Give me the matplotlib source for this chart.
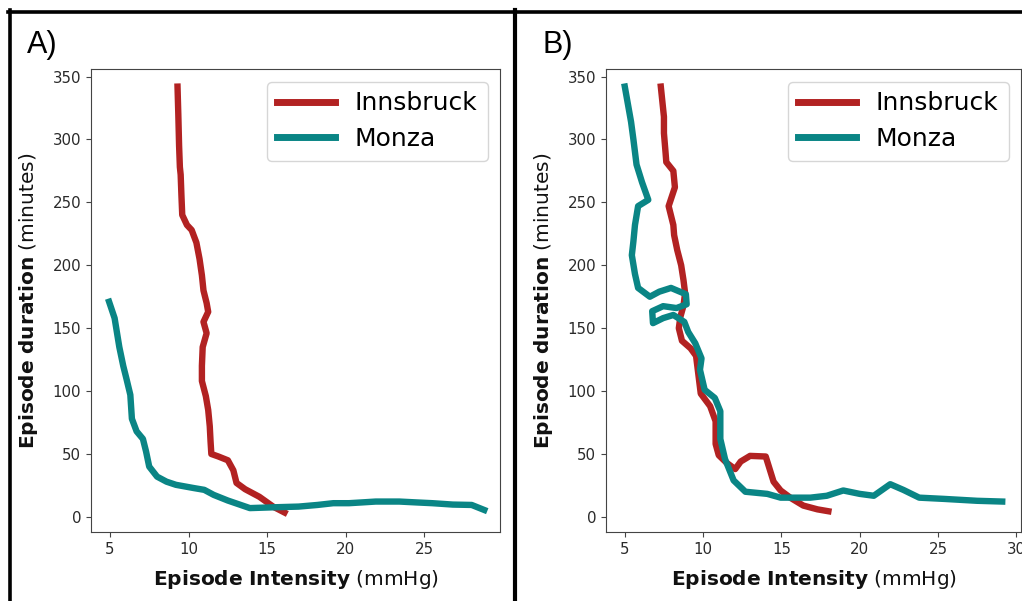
import matplotlib
matplotlib.use("Agg")
import matplotlib.pyplot as plt
from matplotlib.lines import Line2D

# ---------------- data ----------------
a_inn_x = [9.3, 9.35, 9.4, 9.45, 9.5, 9.55, 9.6, 9.9, 10.2, 10.5, 10.7, 10.85, 10.95, 11.15, 11.25,
           10.95, 11.15, 10.9, 10.85, 10.85, 11.1, 11.25, 11.35, 11.4, 11.45, 11.9, 12.5, 12.85,
           13.05, 13.6, 14.5, 15.4, 16.1]
a_inn_y = [342, 320, 295, 278, 272, 255, 240, 232, 228, 218, 205, 192, 180, 170, 163,
           155, 146, 135, 120, 108, 96, 85, 72, 60, 50, 48, 45, 37,
           27, 22, 16, 8, 3.5]

a_mon_x = [4.95, 5.3, 5.6, 5.85, 6.05, 6.3, 6.4, 6.7, 7.1, 7.3, 7.5, 8.0, 8.6, 9.2, 10.3, 11.0,
           11.6, 12.5, 13.2, 13.9, 15.6, 17.0, 18.2, 19.2, 20.2, 21.0, 21.9, 23.4, 24.5, 25.5,
           26.8, 28.0, 28.8]
a_mon_y = [171, 158, 135, 120, 110, 97, 78, 68, 62, 52, 40, 32, 28, 25.5, 23, 21.5,
           17.5, 13, 10, 7, 7.7, 8.2, 9.5, 10.9, 10.9, 11.5, 12.2, 12.2, 11.5, 10.9,
           9.8, 9.5, 5.5]

b_inn_x = [7.3, 7.4, 7.5, 7.5, 7.6, 7.65, 8.1, 8.2, 7.8, 8.1, 8.15, 8.35, 8.6, 8.75, 8.85, 8.75,
           8.55, 8.45, 8.65, 9.2, 9.55, 9.7, 9.85, 10.45, 10.8, 10.8, 11.0, 11.5, 12.05, 12.4,
           13.0, 14.0, 14.5, 14.95, 15.6, 16.4, 17.3, 18.0]
b_inn_y = [342, 330, 318, 305, 290, 282, 275, 262, 247, 232, 224, 212, 200, 188, 178, 168,
           159, 150, 140, 134, 128, 113, 98, 88, 76, 58, 49, 43, 38, 44,
           48.5, 48, 28, 21, 15, 9, 6, 4.5]

b_mon_x = [5.0, 5.2, 5.4, 5.55, 5.65, 5.75, 5.9, 6.1, 6.3, 6.5, 5.85, 5.65, 5.55, 5.45, 5.65,
           5.85, 6.6, 7.2, 7.95, 8.9, 8.95, 8.3, 7.45, 6.75, 6.8, 7.45, 8.1, 8.8, 9.05, 9.5,
           9.9, 9.8, 10.1, 10.75, 11.1, 11.1, 11.4, 11.95, 12.7, 14.1, 14.95, 16.85, 17.9,
           18.95, 20.0, 20.9, 21.95, 22.8, 23.8, 25.4, 27.5, 29.1]
b_mon_y = [342, 328, 314, 300, 290, 280, 274, 266, 259, 252, 247, 232, 219, 208, 193,
           182, 175, 179, 182, 177, 169, 166, 167.5, 163.5, 154, 158, 160.5, 155, 147, 138,
           126, 117, 101, 94.5, 84, 62, 46, 29, 20, 18.3, 15.3, 15.3, 16.8,
           21, 18.3, 16.8, 26, 21.4, 15.3, 14.3, 12.8, 12.2]

series_names = ["Innsbruck", "Monza"]
panel_labels = ["A)", "B)"]
a_x_ticks = [5, 10, 15, 20, 25]
b_x_ticks = [5, 10, 15, 20, 25, 30]
y_ticks = [0, 50, 100, 150, 200, 250, 300, 350]

RED = "#b22222"
TEAL = "#0a8585"

W, H = 1022, 601
fig = plt.figure(figsize=(W / 100, H / 100), dpi=100)

def fx(px):
    return px / W

def fy(py):
    return 1 - py / H

axA = fig.add_axes([fx(91), fy(532), fx(500 - 91), (532 - 69) / H])
axB = fig.add_axes([fx(606), fy(532), fx(1021 - 606), (532 - 69) / H])

panels = [
    (axA, (a_inn_x, a_inn_y), (a_mon_x, a_mon_y), (3.8, 29.8), a_x_ticks),
    (axB, (b_inn_x, b_inn_y), (b_mon_x, b_mon_y), (3.8, 30.3), b_x_ticks),
]

for ax, inn, mon, xl, xt in panels:
    ax.plot(inn[0], inn[1], color=RED, lw=4.6, label=series_names[0], solid_joinstyle="round")
    ax.plot(mon[0], mon[1], color=TEAL, lw=4.6, label=series_names[1], solid_joinstyle="round")
    ax.set_xlim(*xl)
    ax.set_ylim(-12, 356)
    ax.set_xticks(xt)
    ax.set_yticks(y_ticks)
    ax.tick_params(labelsize=10.8, colors="#444444", labelcolor="#2a2a2a")
    for s in ax.spines.values():
        s.set_color("#444444")
    ax.set_xlabel(r"$\bf{Episode\ Intensity}$ (mmHg)", fontsize=14.5, color="#111111", labelpad=8)
    ax.set_ylabel(r"$\bf{Episode\ duration}$ (minutes)", fontsize=14.5, color="#111111", labelpad=9)
    leg = ax.legend(loc="upper right", fontsize=18, handlelength=2.3, borderaxespad=0.5,
                    labelspacing=0.45, handletextpad=0.8)
    for ln in leg.get_lines():
        ln.set_linewidth(5)

# panel letters
fig.text(fx(27), fy(53), panel_labels[0], fontsize=22, family="Liberation Sans", va="baseline", ha="left")
fig.text(fx(542), fy(53), panel_labels[1], fontsize=22, family="Liberation Sans", va="baseline", ha="left")

# black frame lines (screenshot borders)
fig.add_artist(Line2D([fx(8), fx(1022)], [fy(11.5), fy(11.5)], color="black", lw=2.6))
fig.add_artist(Line2D([fx(10), fx(10)], [fy(10), fy(601)], color="black", lw=2.6))
fig.add_artist(Line2D([fx(515), fx(515)], [fy(10), fy(601)], color="black", lw=3.0))

fig.savefig("out.png", dpi=100)
